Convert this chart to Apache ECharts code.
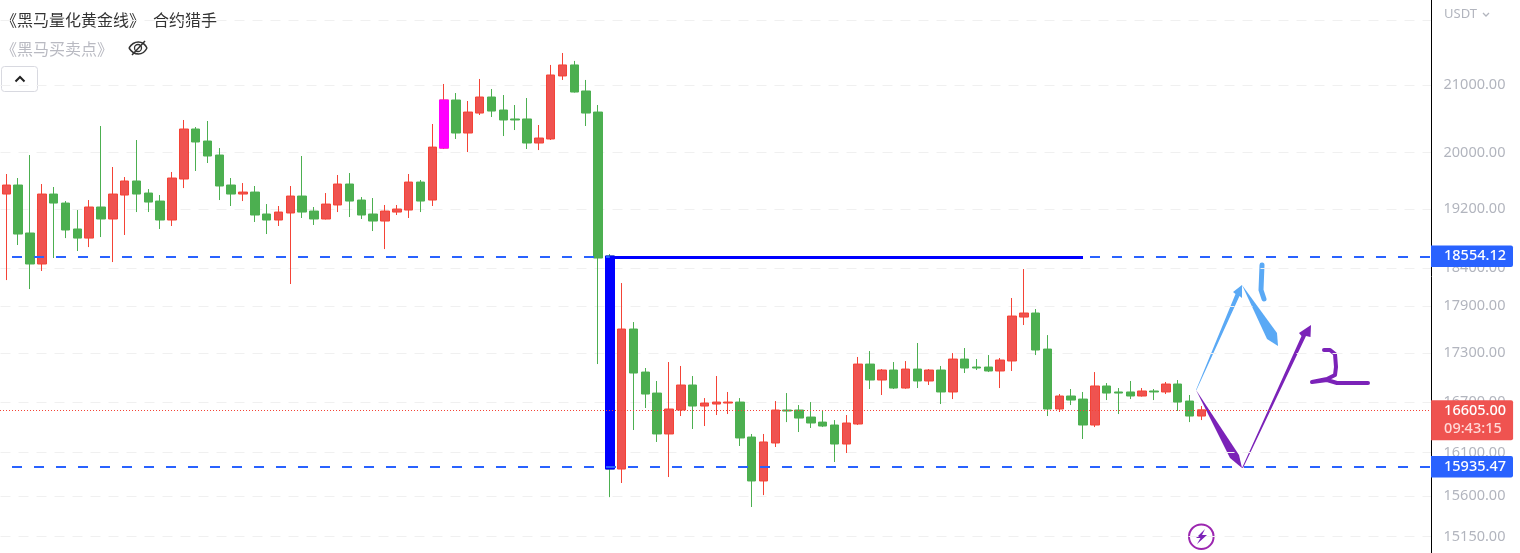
<!DOCTYPE html>
<html><head><meta charset="utf-8">
<style>html,body{margin:0;padding:0;background:#fff}#c{width:1520px;height:553px}</style>
<script src="https://cdn.jsdelivr.net/npm/echarts@6/dist/echarts.min.js"></script>
</head><body><div id="c"></div>
<script>
const opens=[19408,19535,18869,18451,19408,19282,18924,18800,19227,19061,19394,19592,19422,19310,19047,19620,20342,20166,19963,19535,19408,19436,19130,19047,19144,19380,19171,19061,19255,19549,19324,19130,19033,19157,19185,19577,19324,20064,20773,20283,20578,20818,20623,20490,20490,20137,20196,21137,21306,20909,20593,18558,15910,17604,17065,16808,16318,16603,16906,16651,16675,16687,16699,16282,15773,16212,16603,16603,16519,16459,16424,16200,16436,17164,16967,17090,16869,17102,16955,17090,16821,17226,17127,17127,17078,17202,17757,17809,17351,16615,16772,16735,16424,16894,16821,16821,16772,16833,16821,16918,16711,16531];
const closes=[19535,18855,18451,19408,19282,18910,18800,19227,19061,19408,19592,19408,19296,19047,19634,20342,20152,19949,19521,19408,19436,19116,19047,19157,19380,19157,19061,19268,19549,19310,19116,19033,19171,19199,19577,19310,20078,20773,20283,20593,20818,20608,20475,20475,20137,20210,21152,21306,20893,20578,18531,15910,17604,17053,16796,16318,16615,16906,16651,16687,16699,16699,16271,15773,16224,16603,16591,16507,16448,16412,16200,16448,17164,16967,17090,16869,17102,16955,17090,16821,17226,17115,17115,17078,17214,17770,17809,17339,16615,16772,16723,16424,16894,16808,16808,16772,16833,16821,16918,16699,16531,16605];
const lows=[18238,18706,18120,18358,18531,18800,18625,18678,18814,18477,18842,19157,19157,18924,18965,19492,19734,19848,19324,19241,19310,19020,18855,18965,18186,19075,18979,19055,19157,19088,19061,18896,18651,19116,19075,19157,19241,20050,20196,20006,20549,20519,20239,20327,20050,20035,20181,21076,20885,20386,17164,15590,15750,16365,16627,16224,15818,16531,16377,16412,16543,16555,16177,15479,15613,16165,16459,16341,16389,16400,15991,16095,16424,16857,16784,16857,16860,16869,16906,16675,16735,17053,17090,17065,16869,17078,17655,17276,16531,16579,16663,16259,16400,16723,16555,16735,16765,16723,16796,16591,16459,16483];
const highs=[19691,19634,19963,19549,19507,19310,19185,19324,20386,19791,19648,20181,19478,19394,19720,20475,20371,20460,20064,19634,19563,19521,19268,19241,19521,19949,19227,19422,19677,19705,19366,19352,19255,19255,19691,19606,20416,21015,20878,20758,21091,20939,20848,20698,20803,20401,21306,21491,21368,21076,20698,18584,18199,17693,17115,16955,17189,17140,17016,16747,17016,16821,16747,16318,16318,16711,16808,16663,16699,16603,16483,16543,17252,17326,17102,17189,17201,17427,17102,17140,17301,17364,17226,17276,17239,18003,18384,17860,17527,16796,16857,16821,17065,16930,16869,16955,16869,16857,16943,16967,16784,16651];
const categoryCount=121;
const categories=Array.from({length:categoryCount},(_,i)=>String(i));
const axisTicks=[22000,21000,20000,19200,18400,17900,17300,16700,16100,15600,15150];
const unlabeledTicks=[22000];
const highlightIndex=[37,51];
const highlightColors=['#ff00ff','#0000ff'];
const levelHigh=18554.12, levelLow=15935.47, lastPrice=16605.00;
const countdown='09:43:15';
const ROOF=18537;
const WHITE='#fff',RED='#ef5350',RW='#f44336',GREEN='#4caf50',TAGBLUE='#2962ff',BLUE='#5aa9f5',PURPLE='#7b22b8';

const candleData=opens.map((o,i)=>[o,closes[i],lows[i],highs[i]]);
const overlayData=opens.map((o,i)=>{
  const k=highlightIndex.indexOf(i);
  if(k<0) return ['-','-','-','-'];
  const c=highlightColors[k];
  return {value:[o,closes[i],Math.min(o,closes[i]),Math.max(o,closes[i])],itemStyle:{color:c,color0:c,borderColor:c,borderColor0:c}};
});
const font='"Noto Sans","Noto Sans CJK SC",sans-serif';
const tagLabel=(bg)=>({show:true,position:'end',distance:0,backgroundColor:bg,color:WHITE,fontSize:14.5,fontFamily:font,fontWeight:500,
  padding:[4,7,3,13],borderRadius:[0,2,2,0],align:'left',verticalAlign:'middle'});
const chart=echarts.init(document.getElementById('c'),null,{renderer:'canvas'});
chart.setOption({
  animation:false,backgroundColor:'#fff',
  grid:{left:0.5,top:0,width:1431.5,height:553,containLabel:false},
  xAxis:{type:'category',data:categories,show:false,boundaryGap:true},
  yAxis:{type:'log',logBase:10,min:14973,max:22330,position:'right',scale:true,offset:-1,
    axisLine:{show:true,onZero:false,lineStyle:{color:'#000',width:1}},
    axisTick:{show:false,customValues:axisTicks},
    splitLine:{show:true,lineStyle:{color:'#f0f0f0',type:[10,8],width:1}},
    axisLabel:{customValues:axisTicks,color:'#b2b5be',fontSize:14.5,fontFamily:font,margin:12.5,
      formatter:v=>unlabeledTicks.includes(Math.round(v))?'':Number(v).toFixed(2)}},
  series:[
    {type:'candlestick',name:'K',data:candleData,barWidth:9,z:2,
      itemStyle:{color:RED,color0:GREEN,borderColor:RW,borderColor0:GREEN,borderWidth:1},
      markLine:{silent:true,symbol:'none',animation:false,precision:2,data:[
        [{x:12,yAxis:levelHigh,lineStyle:{color:TAGBLUE,type:[10,12],width:2},label:{...tagLabel(TAGBLUE),formatter:levelHigh.toFixed(2)}},{x:1431,yAxis:levelHigh}],
        [{x:12,yAxis:levelLow,lineStyle:{color:TAGBLUE,type:[10,12],width:2},label:{...tagLabel(TAGBLUE),formatter:levelLow.toFixed(2)}},{x:1431,yAxis:levelLow}],
        [{x:0,yAxis:lastPrice,lineStyle:{color:RW,type:[1,2],width:1},label:{show:false}},{x:1431,yAxis:lastPrice}],
        [{coord:['51',ROOF],lineStyle:{color:'#0000ff',type:'solid',width:3},label:{show:false}},{coord:['91',ROOF]}]
      ]},
      markPoint:{silent:true,animation:false,symbol:'circle',symbolSize:0,data:[
        {coord:['120',lastPrice],label:{show:true,position:'right',distance:0,offset:[5,10.5],backgroundColor:RED,color:WHITE,fontSize:14.5,fontFamily:font,fontWeight:500,
          padding:[2,7,2,13],lineHeight:18,borderRadius:[0,2,2,0],align:'left',
          formatter:lastPrice.toFixed(2)+'\n{t|'+countdown+'}',
          rich:{t:{color:'#ffd9d7',fontSize:14.5,fontFamily:font,lineHeight:18}}}}
      ]}},
    {type:'candlestick',name:'highlight',data:overlayData,barWidth:9,z:3,itemStyle:{borderWidth:1}}
  ],
  graphic:[
    {type:'text',left:1,top:12,style:{text:'《黑马量化黄金线》',fill:'#333',font:'16px "Noto Sans CJK SC"'}},
    {type:'text',left:153,top:12,style:{text:'合约猎手',fill:'#333',font:'16px "Noto Sans CJK SC"'}},
    {type:'text',left:1,top:41,style:{text:'《黑马买卖点》',fill:'#b9bac2',font:'16px "Noto Sans CJK SC"'}},
    {type:'text',left:1444,top:8,style:{text:'USDT',fill:'#b2b5be',font:'13px "Noto Sans"'}},
    {type:'polyline',shape:{points:[[1483,13],[1486,16],[1489,13]]},style:{stroke:'#b2b5be',fill:null,lineWidth:1.3}},
    {type:'rect',shape:{x:1.5,y:66.5,width:36,height:25,r:3},style:{fill:'#fff',stroke:'#d8d9e0',lineWidth:1}},
    {type:'polyline',shape:{points:[[15.5,81.5],[20,77],[24.5,81.5]]},style:{stroke:'#222',fill:null,lineWidth:2}},
    {type:'bezierCurve',shape:{x1:129,y1:48,cpx1:134,cpy1:40,cpx2:143,cpy2:40,x2:147,y2:48},style:{stroke:'#333',fill:null,lineWidth:1.5}},
    {type:'bezierCurve',shape:{x1:129,y1:48,cpx1:134,cpy1:56,cpx2:143,cpy2:56,x2:147,y2:48},style:{stroke:'#333',fill:null,lineWidth:1.5}},
    {type:'circle',shape:{cx:138,cy:48,r:3.5},style:{stroke:'#333',fill:null,lineWidth:1.3}},
    {type:'line',shape:{x1:132,y1:55,x2:145,y2:41},style:{stroke:'#333',lineWidth:1.5}},
    {type:'polygon',shape:{points:[[1196,390],[1235.5,294],[1233,292],[1242,285],[1242,298],[1239.5,296],[1196.5,390]]},style:{fill:BLUE}},
    {type:'polygon',shape:{points:[[1242,285],[1277,333],[1278,346],[1267,339]]},style:{fill:BLUE}},
    {type:'polygon',shape:{points:[[1196,390],[1239,455],[1242,468],[1230,458]]},style:{fill:PURPLE}},
    {type:'polygon',shape:{points:[[1242,468],[1301.5,336],[1299,333],[1311,325],[1310.5,337],[1306,336],[1243,468]]},style:{fill:PURPLE}},
    {type:'polyline',shape:{points:[[1262,265],[1261,290],[1264,299]]},style:{stroke:BLUE,fill:null,lineWidth:5,lineCap:'round',lineJoin:'round'}},
    {type:'polyline',shape:{points:[[1324,350],[1330,350],[1335,354],[1336,367],[1335,375],[1327,379],[1312,382],[1327,380],[1337,383],[1368,383]]},style:{stroke:PURPLE,fill:null,lineWidth:4,lineCap:'round',lineJoin:'round'}},
    {type:'circle',shape:{cx:1201.3,cy:536.7,r:12.3},style:{stroke:'#9c27b0',fill:'#fff',lineWidth:2}},
    {type:'polygon',shape:{points:[[1205,529],[1196,538],[1200.5,538],[1197,544],[1207,535],[1202,535]]},style:{fill:'#7b22b8'}}
  ]
});
</script></body></html>
